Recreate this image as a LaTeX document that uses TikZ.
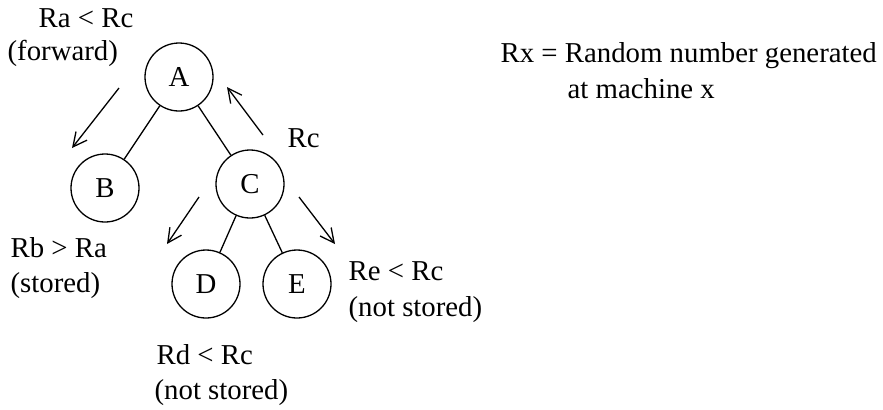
\documentclass[tikz,border=0pt]{standalone}
\usepackage{fontspec}
\setmainfont{Liberation Serif}
\usetikzlibrary{arrows.meta}
\begin{document}
\begin{tikzpicture}[x=0.5pt,y=-0.5pt,
  line width=0.65pt,
  every node/.style={font=\fontsize{14.4}{17}\selectfont},
  machine/.style={circle,draw,minimum size=34pt,inner sep=0pt},
  lbl/.style={anchor=base west,inner sep=0pt},
  msg/.style={-{Straight Barb[length=7pt,width=7pt]}}]
\useasboundingbox (0,0) rectangle (883,409);
\node[machine] (A) at (179,77) {A};
\node[machine] (B) at (105,188) {B};
\node[machine] (C) at (250,184) {C};
\node[machine] (D) at (206,284) {D};
\node[machine] (E) at (297,284) {E};
\draw (A) -- (B);
\draw (A) -- (C);
\draw (C) -- (D);
\draw (C) -- (E);
\coordinate (f1) at (119,88);
\coordinate (f2) at (72,148);
\coordinate (r1) at (263,135);
\coordinate (r2) at (227,87);
\coordinate (d1) at (199,197);
\coordinate (d2) at (167,244);
\coordinate (e1) at (299,197);
\coordinate (e2) at (335,244);
\draw[msg] (f1) -- (f2);
\draw[msg] (r1) -- (r2);
\draw[msg] (d1) -- (d2);
\draw[msg] (e1) -- (e2);
\node[lbl] (t1) at (38,27) {Ra < Rc};
\node[lbl] (t2) at (7,60) {(forward)};
\node[lbl] (t3) at (287,147) {Rc};
\node[lbl] (t4) at (10,257) {Rb > Ra};
\node[lbl] (t5) at (10,292) {(stored)};
\node[lbl] (t6) at (348,280) {Re < Rc};
\node[lbl] (t7) at (348,316) {(not stored)};
\node[lbl] (t8) at (156,364) {Rd < Rc};
\node[lbl] (t9) at (154,399) {(not stored)};
\node[lbl] (t10) at (500,62) {Rx = Random number generated};
\node[lbl] (t11) at (567,98) {at machine x};
\end{tikzpicture}
\end{document}
